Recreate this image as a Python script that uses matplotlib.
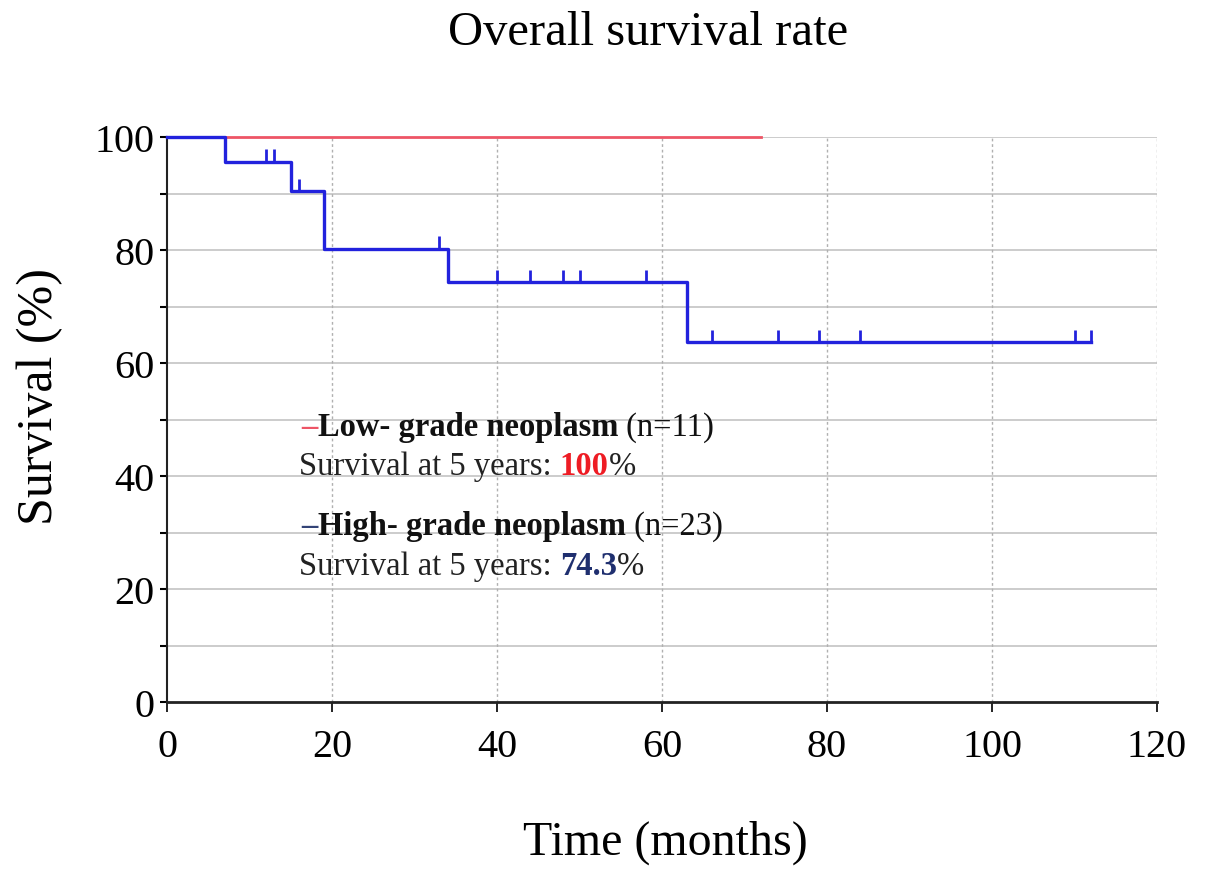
import numpy as np
import matplotlib
matplotlib.use("Agg")
import matplotlib.pyplot as plt
from matplotlib.offsetbox import TextArea, HPacker, AnnotationBbox

# ---- data ----
high_event_times = [0, 7, 15, 19, 34, 63]
high_survival = [100, 95.65, 90.4, 80.2, 74.3, 63.7]
high_end = 112
high_censor = [12, 13, 16, 33, 40, 44, 48, 50, 58, 66, 74, 79, 84, 110, 112]
low_times = [0, 72]
low_survival = [100, 100]

x_ticks = [0, 20, 40, 60, 80, 100, 120]
y_ticks = [0, 20, 40, 60, 80, 100]

plt.rcParams['font.family'] = ['Liberation Serif', 'DejaVu Serif']

fig = plt.figure(figsize=(12.05, 8.79), dpi=100)
ax = fig.add_axes([0.1386, 0.2002, 0.8216, 0.6428])

blue = '#2222dd'
red = '#ee5566'

# grid
for yv in range(10, 101, 10):
    ax.axhline(yv, color='#c8c8c8', lw=1.3, zorder=0)
for xv in x_ticks[1:]:
    ax.axvline(xv, color='#b0b0b0', lw=1.0, ls=(0, (2, 2)), zorder=0)

# low grade
ax.plot(low_times, low_survival, color=red, lw=2.0, clip_on=False, zorder=3)

# high grade step
xs = list(high_event_times) + [high_end]
ys = list(high_survival) + [high_survival[-1]]
ax.step(xs, ys, where='post', color=blue, lw=2.4, clip_on=False, zorder=4)

# censor marks
et = np.array(high_event_times)
sv = np.array(high_survival)
cs = np.array(high_censor)
cy = sv[np.searchsorted(et, cs, side='right') - 1]
ax.vlines(cs, cy, cy + 2.2, color=blue, lw=2.0, zorder=4)

ax.set_xlim(0, 120)
ax.set_ylim(0, 100)
ax.set_xticks(x_ticks)
ax.set_yticks(y_ticks)
ax.set_yticks(range(10, 100, 20), minor=True)
ax.tick_params(axis='y', which='both', direction='out', length=5, width=1.5, pad=4, labelsize=29)
ax.tick_params(axis='x', direction='out', length=7, width=1.2, pad=12, labelsize=29)
for s in ['top', 'right']:
    ax.spines[s].set_visible(False)
ax.spines['left'].set_linewidth(1.5)
ax.spines['bottom'].set_linewidth(2.0)
ax.spines['left'].set_color('#222222')
ax.spines['bottom'].set_color('#222222')

ax.set_xlabel('Time (months)', fontsize=34.5)
ax.xaxis.label.set_va('center')
ax.xaxis.set_label_coords(0.503, -0.2475)
ax.set_ylabel('Survival (%)', fontsize=36)
ax.yaxis.label.set_va('center')
ax.yaxis.set_label_coords(-0.128, 0.543)
fig.text(0.5378, 1 - 33 / 879, 'Overall survival rate', ha='center', va='center', fontsize=35)

fs = 23.5


def line(parts, x, y):
    boxes = []
    for txt, kw in parts:
        boxes.append(TextArea(txt, textprops=dict(fontsize=fs, family=['Liberation Serif', 'DejaVu Serif'], **kw)))
    pack = HPacker(children=boxes, pad=0, sep=0, align='baseline')
    ab = AnnotationBbox(pack, (x, y), xycoords='data', box_alignment=(0, 0.5), frameon=False, pad=0)
    ax.add_artist(ab)


line([('\u2013', dict(color=red, weight='bold')), ('Low- grade neoplasm', dict(weight='bold', color='#111111')),
      (' (n=11)', dict(color='#111111'))], 16.3, 48.8)
line([('Survival at 5 years: ', dict(color='#222222')), ('100', dict(weight='bold', color='#ee1c24')),
      ('%', dict(color='#222222'))], 16.0, 41.8)
line([('\u2013', dict(color='#334477', weight='bold')), ('High- grade neoplasm', dict(weight='bold', color='#111111')),
      (' (n=23)', dict(color='#111111'))], 16.3, 31.3)
line([('Survival at 5 years: ', dict(color='#222222')), ('74.3', dict(weight='bold', color='#1f2f6f')),
      ('%', dict(color='#222222'))], 16.0, 24.2)

fig.savefig('out.png', dpi=100)
